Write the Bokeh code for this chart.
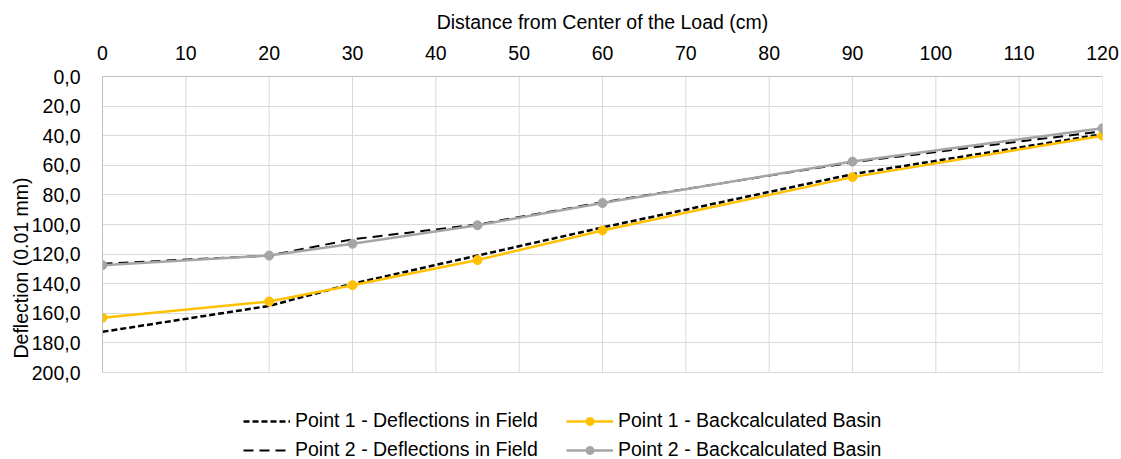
from bokeh.plotting import figure
from bokeh.models import Range1d, FixedTicker, Legend, LegendItem
from bokeh.embed import file_html
from bokeh.resources import INLINE

# ---- data ----
distance = [0, 20, 30, 45, 60, 90, 120]
p1_field = [172.5, 155, 140, 121, 102, 66, 39]
p1_back = [163, 152, 141, 124, 104, 68, 40]
p2_field = [126.5, 121, 110, 100, 85, 58, 37]
p2_back = [127.5, 121, 113, 100.5, 85.5, 57.5, 35]

x_ticks = [0, 10, 20, 30, 40, 50, 60, 70, 80, 90, 100, 110, 120]
y_ticks = [0, 20, 40, 60, 80, 100, 120, 140, 160, 180, 200]
y_tick_labels = ["0,0", "20,0", "40,0", "60,0", "80,0", "100,0", "120,0",
                 "140,0", "160,0", "180,0", "200,0"]

names = ["Point 1 - Deflections in Field", "Point 1 - Backcalculated Basin",
         "Point 2 - Deflections in Field", "Point 2 - Backcalculated Basin"]

FONT = "Liberation Sans"
FS = "19.5px"
YELLOW = "#FFC000"
GRAY = "#A5A5A5"
GRID = "#D9D9D9"

# plot area: y=0 at px 76, y=200 at px 372; frame extends to the bottom (459)
# so that the legend can sit inside it below the data area
Y_MIN, Y_MAX = y_ticks[0], y_ticks[-1]
px_per_unit = (372 - 76) / (Y_MAX - Y_MIN)
y_bottom = Y_MAX + (459 - 372) / px_per_unit

p = figure(width=1121, height=459, output_backend="svg", toolbar_location=None,
           x_axis_location="above",
           x_range=Range1d(x_ticks[0], x_ticks[-1]), y_range=Range1d(y_bottom, Y_MIN),
           min_border_left=102, min_border_right=19,
           min_border_top=76, min_border_bottom=0)
p.outline_line_color = None
p.background_fill_color = "white"

# axes
for ax in (p.xaxis[0], p.yaxis[0]):
    ax.major_tick_line_color = None
    ax.minor_tick_line_color = None
    ax.axis_line_color = "#BFBFBF"
    ax.axis_line_width = 1
    ax.major_label_text_font = FONT
    ax.major_label_text_font_size = FS
    ax.major_label_text_color = "#000000"
    ax.axis_label_text_font = FONT
    ax.axis_label_text_font_size = FS
    ax.axis_label_text_font_style = "normal"
    ax.axis_label_text_color = "#000000"

p.xaxis.ticker = FixedTicker(ticks=x_ticks)
p.xaxis.axis_label = "Distance from Center of the Load (cm)"
p.xaxis.major_label_standoff = 11
p.xaxis.axis_label_standoff = 10

p.yaxis.ticker = FixedTicker(ticks=y_ticks)
p.yaxis.bounds = (Y_MIN, Y_MAX)
p.yaxis.major_label_overrides = {t: l for t, l in zip(y_ticks, y_tick_labels)}
p.yaxis.axis_label = "Deflection (0.01 mm)"
p.yaxis.major_label_standoff = 16
p.yaxis.axis_label_standoff = -3

p.xgrid.grid_line_color = None
p.ygrid.grid_line_color = GRID
p.ygrid.grid_line_width = 1

# vertical grid lines limited to the data area
p.segment(x0=x_ticks, x1=x_ticks, y0=[Y_MIN] * len(x_ticks), y1=[Y_MAX] * len(x_ticks),
          line_color=GRID, line_width=1)

# series
r1 = p.line(distance, p1_field, line_color="black", line_width=2.5, line_dash="6 3")
r2l = p.line(distance, p1_back, line_color=YELLOW, line_width=2.5)
r2m = p.scatter(distance, p1_back, size=9, fill_color=YELLOW, line_color=YELLOW)
r3 = p.line(distance, p2_field, line_color="black", line_width=2, line_dash="10 6")
r4l = p.line(distance, p2_back, line_color=GRAY, line_width=2.5)
r4m = p.scatter(distance, p2_back, size=9, fill_color=GRAY, line_color=GRAY)

# ncols fills column by column
legend = Legend(items=[LegendItem(label=names[0], renderers=[r1]),
                       LegendItem(label=names[2], renderers=[r3]),
                       LegendItem(label=names[1], renderers=[r2l, r2m]),
                       LegendItem(label=names[3], renderers=[r4l, r4m])],
                ncols=2, location=(141, -2),
                glyph_width=47, glyph_height=20, label_height=20, label_width=265,
                label_standoff=5, spacing=6, padding=0, margin=0,
                border_line_color=None, background_fill_alpha=0,
                label_text_font=FONT, label_text_font_size=FS,
                label_text_color="#000000")
p.add_layout(legend, "center")

open("out.html", "w").write(file_html(p, INLINE))
